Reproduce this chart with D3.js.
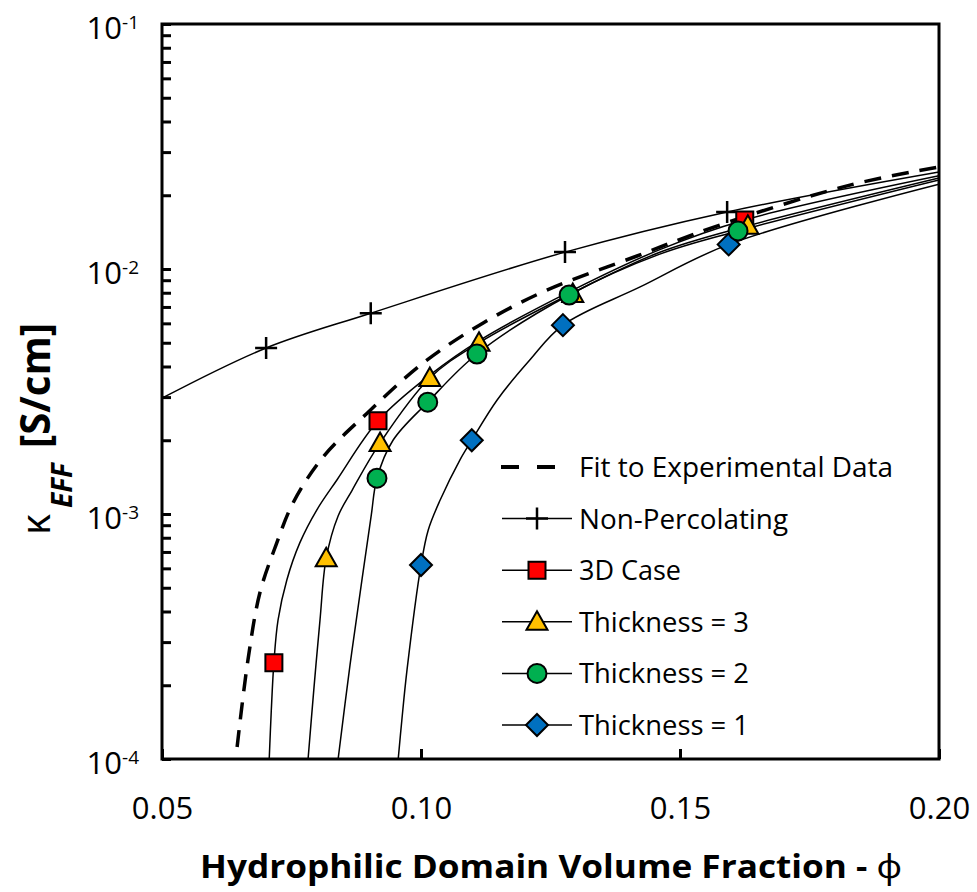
<!DOCTYPE html>
<html>
<head>
<meta charset="utf-8">
<script src="https://cdn.jsdelivr.net/npm/d3@7"></script>
<style>
  body { margin: 0; background: #fff; }
</style>
</head>
<body>
<div id="chart"></div>
<script>
// ─── Data (phi, kappa in S/cm) ───
const phiTicks = [0.05, 0.10, 0.15, 0.20];
const decadeExps = [-4, -3, -2, -1];

const fitCurve = [
  [0.0645, 1.12e-4], [0.0666, 2.54e-4], [0.0689, 4.77e-4], [0.0720, 7.46e-4],
  [0.0753, 1.11e-3], [0.0811, 1.71e-3], [0.0896, 2.58e-3], [0.1004, 4.13e-3],
  [0.1120, 6.02e-3], [0.1243, 8.2e-3], [0.1417, 1.13e-2], [0.1564, 1.48e-2],
  [0.1828, 2.2e-2], [0.2000, 2.61e-2],
];

const nonPercCurve = [
  [0.05, 2.97e-3], [0.0701, 4.76e-3], [0.0903, 6.6e-3], [0.1278, 1.172e-2],
  [0.1591, 1.71e-2], [0.2, 2.49e-2],
];
const nonPercMarkers = [
  [0.0701, 4.76e-3], [0.0903, 6.6e-3], [0.1278, 1.172e-2], [0.1591, 1.71e-2],
];

const case3DCurve = [
  [0.0707, 1e-4], [0.0711, 1.58e-4], [0.0716, 2.47e-4], [0.0724, 3.69e-4],
  [0.0741, 5.38e-4], [0.0766, 7.62e-4], [0.0799, 1.04e-3], [0.0838, 1.38e-3],
  [0.0917, 2.4e-3], [0.1017, 3.69e-3], [0.1114, 5.13e-3], [0.1293, 8.2e-3],
  [0.1461, 1.2e-2], [0.1625, 1.585e-2], [0.2, 2.4e-2],
];
const case3DMarkers = [[0.0716, 2.47e-4], [0.0917, 2.4e-3], [0.1625, 1.585e-2]];

const t3Curve = [
  [0.0782, 1e-4], [0.0793, 1.91e-4], [0.0805, 3.69e-4], [0.0817, 6.6e-4],
  [0.0840, 9.82e-4], [0.0867, 1.25e-3], [0.0921, 1.95e-3], [0.1017, 3.59e-3],
  [0.1112, 5.0e-3], [0.1293, 8.0e-3], [0.1461, 1.17e-2], [0.1631, 1.50e-2],
  [0.2, 2.35e-2],
];
const t3Markers = [
  [0.0817, 6.6e-4], [0.0921, 1.95e-3], [0.1017, 3.59e-3], [0.1112, 5.0e-3],
  [0.1293, 7.9e-3], [0.1631, 1.50e-2],
];

const t2Curve = [
  [0.0840, 1e-4], [0.0863, 2.42e-4], [0.0886, 5.38e-4], [0.0904, 9.9e-4],
  [0.0915, 1.4e-3], [0.0946, 2.0e-3], [0.1013, 2.86e-3], [0.1108, 4.5e-3],
  [0.1286, 7.83e-3], [0.1461, 1.15e-2], [0.1612, 1.43e-2], [0.2, 2.31e-2],
];
const t2Markers = [
  [0.0915, 1.4e-3], [0.1013, 2.86e-3], [0.1108, 4.5e-3], [0.1286, 7.83e-3],
  [0.1612, 1.43e-2],
];

const t1Curve = [
  [0.0956, 1e-4], [0.0963, 1.44e-4], [0.0973, 2.31e-4], [0.1000, 6.19e-4],
  [0.1014, 8.61e-4], [0.1037, 1.14e-3], [0.1075, 1.66e-3], [0.1098, 2.0e-3],
  [0.1147, 2.92e-3], [0.1210, 4.25e-3], [0.1274, 5.9e-3], [0.1423, 8.45e-3],
  [0.1594, 1.26e-2], [0.2, 2.22e-2],
];
const t1Markers = [[0.1000, 6.19e-4], [0.1098, 2.0e-3], [0.1274, 5.9e-3], [0.1594, 1.26e-2]];

// draw order (later = on top)
const series = [
  { name: "Non-Percolating", curve: nonPercCurve, markers: nonPercMarkers, shape: "cross", fill: "none" },
  { name: "Thickness = 1", curve: t1Curve, markers: t1Markers, shape: "diamond", fill: "#0070C0" },
  { name: "3D Case", curve: case3DCurve, markers: case3DMarkers, shape: "square", fill: "#FF0000" },
  { name: "Thickness = 3", curve: t3Curve, markers: t3Markers, shape: "triangle", fill: "#FFC000" },
  { name: "Thickness = 2", curve: t2Curve, markers: t2Markers, shape: "circle", fill: "#00B050" },
];

const legendItems = [
  { label: "Fit to Experimental Data", shape: "dash", len: 314 },
  { label: "Non-Percolating", shape: "cross", fill: "none", len: 209 },
  { label: "3D Case", shape: "square", fill: "#FF0000", len: 102 },
  { label: "Thickness = 3", shape: "triangle", fill: "#FFC000", len: 170 },
  { label: "Thickness = 2", shape: "circle", fill: "#00B050", len: 170 },
  { label: "Thickness = 1", shape: "diamond", fill: "#0070C0", len: 170 },
];

// ─── Layout ───
const W = 977, H = 892;
const M = { left: 162, right: 939, top: 24, bottom: 759 };
const FONT = "'Open Sans', 'Noto Sans', sans-serif";

const svg = d3.select("#chart").append("svg")
  .attr("width", W).attr("height", H)
  .style("display", "block");

const x = d3.scaleLinear().domain([0.05, 0.20]).range([M.left, M.right]);
const y = d3.scaleLog().domain([1e-4, 1e-1]).range([M.bottom, M.top]);

svg.append("defs").append("clipPath").attr("id", "plot-clip")
  .append("rect")
  .attr("x", M.left).attr("y", M.top)
  .attr("width", M.right - M.left).attr("height", M.bottom - M.top);

// ── markers ──
function drawMarker(g, shape, fill, cx, cy) {
  if (shape === "cross") {
    g.append("path")
      .attr("d", `M${cx - 11},${cy}H${cx + 11}M${cx},${cy - 11}V${cy + 11}`)
      .attr("stroke", "#000").attr("stroke-width", 2.5).attr("fill", "none");
    return;
  }
  if (shape === "circle") {
    g.append("circle").attr("cx", cx).attr("cy", cy).attr("r", 9.5)
      .attr("fill", fill).attr("stroke", "#000").attr("stroke-width", 2);
    return;
  }
  let d;
  if (shape === "square") d = `M${cx - 8.5},${cy - 8.5}h17v17h-17Z`;
  else if (shape === "triangle") d = `M${cx},${cy - 10.5}L${cx + 10.5},${cy + 8}L${cx - 10.5},${cy + 8}Z`;
  else d = `M${cx},${cy - 11}L${cx + 11},${cy}L${cx},${cy + 11}L${cx - 11},${cy}Z`;
  g.append("path").attr("d", d)
    .attr("fill", fill).attr("stroke", "#000").attr("stroke-width", 2);
}

// ── axes (ticks inside) ──
const minorVals = [];
[-4, -3, -2].forEach((e) => {
  for (let m = 1; m <= 9; m++) minorVals.push(m * Math.pow(10, e));
});
minorVals.push(1e-1);

svg.append("g")
  .attr("transform", `translate(${M.left},0)`)
  .call(d3.axisLeft(y).tickValues(minorVals).tickSize(-9).tickFormat(() => ""))
  .call((g) => g.select(".domain").remove())
  .call((g) => g.selectAll(".tick line").attr("stroke", "#000").attr("stroke-width", 3));

const xAxis = svg.append("g")
  .attr("transform", `translate(0,${M.bottom})`)
  .call(d3.axisBottom(x).tickValues(phiTicks).tickSize(-10).tickPadding(38).tickFormat(d3.format(".2f")))
  .call((g) => g.select(".domain").remove());
xAxis.selectAll(".tick line").attr("stroke", "#000").attr("stroke-width", 3);
xAxis.selectAll(".tick text")
  .attr("fill", "#000")
  .style("font-family", FONT)
  .style("font-size", "31px");

// y decade labels 10^n
decadeExps.forEach((e) => {
  const t = svg.append("text")
    .attr("x", 139)
    .attr("y", y(Math.pow(10, e)) + 15)
    .attr("text-anchor", "end")
    .style("font-family", FONT)
    .attr("fill", "#000");
  t.append("tspan").style("font-size", "31px").text("10");
  t.append("tspan").style("font-size", "19px").attr("dy", -10).text(String(e));
});

// ── curves ──
const line = d3.line()
  .x((d) => x(d[0]))
  .y((d) => y(d[1]))
  .curve(d3.curveCatmullRom.alpha(0.5));

const plot = svg.append("g").attr("clip-path", "url(#plot-clip)");

plot.append("path")
  .datum(fitCurve)
  .attr("d", line)
  .attr("fill", "none")
  .attr("stroke", "#000")
  .attr("stroke-width", 3.5)
  .attr("stroke-dasharray", "17,11");

series.forEach((s) => {
  plot.append("path")
    .datum(s.curve)
    .attr("d", line)
    .attr("fill", "none")
    .attr("stroke", "#000")
    .attr("stroke-width", 1.5);
});

const markerG = svg.append("g");
series.forEach((s) => {
  s.markers.forEach((p) => drawMarker(markerG, s.shape, s.fill, x(p[0]), y(p[1])));
});

// ── frame ──
svg.append("rect")
  .attr("x", M.left).attr("y", M.top)
  .attr("width", M.right - M.left).attr("height", M.bottom - M.top)
  .attr("fill", "none").attr("stroke", "#000").attr("stroke-width", 3);

// ── legend ──
const lg = svg.append("g").attr("class", "legend");
legendItems.forEach((it, i) => {
  const cy = 467 + i * 51.6;
  if (it.shape === "dash") {
    lg.append("line").attr("x1", 501).attr("x2", 519).attr("y1", cy).attr("y2", cy)
      .attr("stroke", "#000").attr("stroke-width", 4);
    lg.append("line").attr("x1", 537).attr("x2", 555).attr("y1", cy).attr("y2", cy)
      .attr("stroke", "#000").attr("stroke-width", 4);
  } else {
    lg.append("line").attr("x1", 502).attr("x2", 572).attr("y1", cy).attr("y2", cy)
      .attr("stroke", "#000").attr("stroke-width", 1.5);
    drawMarker(lg, it.shape, it.fill, 537, cy);
  }
  lg.append("text")
    .attr("x", 579).attr("y", cy + 10)
    .attr("textLength", it.len).attr("lengthAdjust", "spacingAndGlyphs")
    .style("font-family", FONT).style("font-size", "28px")
    .attr("fill", "#000")
    .text(it.label);
});

// ── axis titles ──
const xt = svg.append("text")
  .attr("x", 200).attr("y", 878)
  .attr("textLength", 702).attr("lengthAdjust", "spacingAndGlyphs")
  .style("font-family", FONT).style("font-size", "33px").style("font-weight", "bold")
  .attr("fill", "#000");
xt.append("tspan").text("Hydrophilic Domain Volume Fraction - ");
xt.append("tspan").style("font-weight", "normal").text("ϕ");

svg.append("text")
  .attr("transform", "translate(50,535) rotate(-90)")
  .style("font-family", FONT).style("font-size", "40px")
  .attr("fill", "#000").text("κ");
svg.append("text")
  .attr("transform", "translate(72,508) rotate(-90)")
  .style("font-family", FONT).style("font-size", "28px").style("font-weight", "bold")
  .style("font-style", "italic")
  .attr("fill", "#000").text("EFF");
svg.append("text")
  .attr("transform", "translate(50,448) rotate(-90)")
  .attr("textLength", 125).attr("lengthAdjust", "spacingAndGlyphs")
  .style("font-family", FONT).style("font-size", "42px").style("font-weight", "bold")
  .attr("fill", "#000").text("[S/cm]");
</script>
</body>
</html>
